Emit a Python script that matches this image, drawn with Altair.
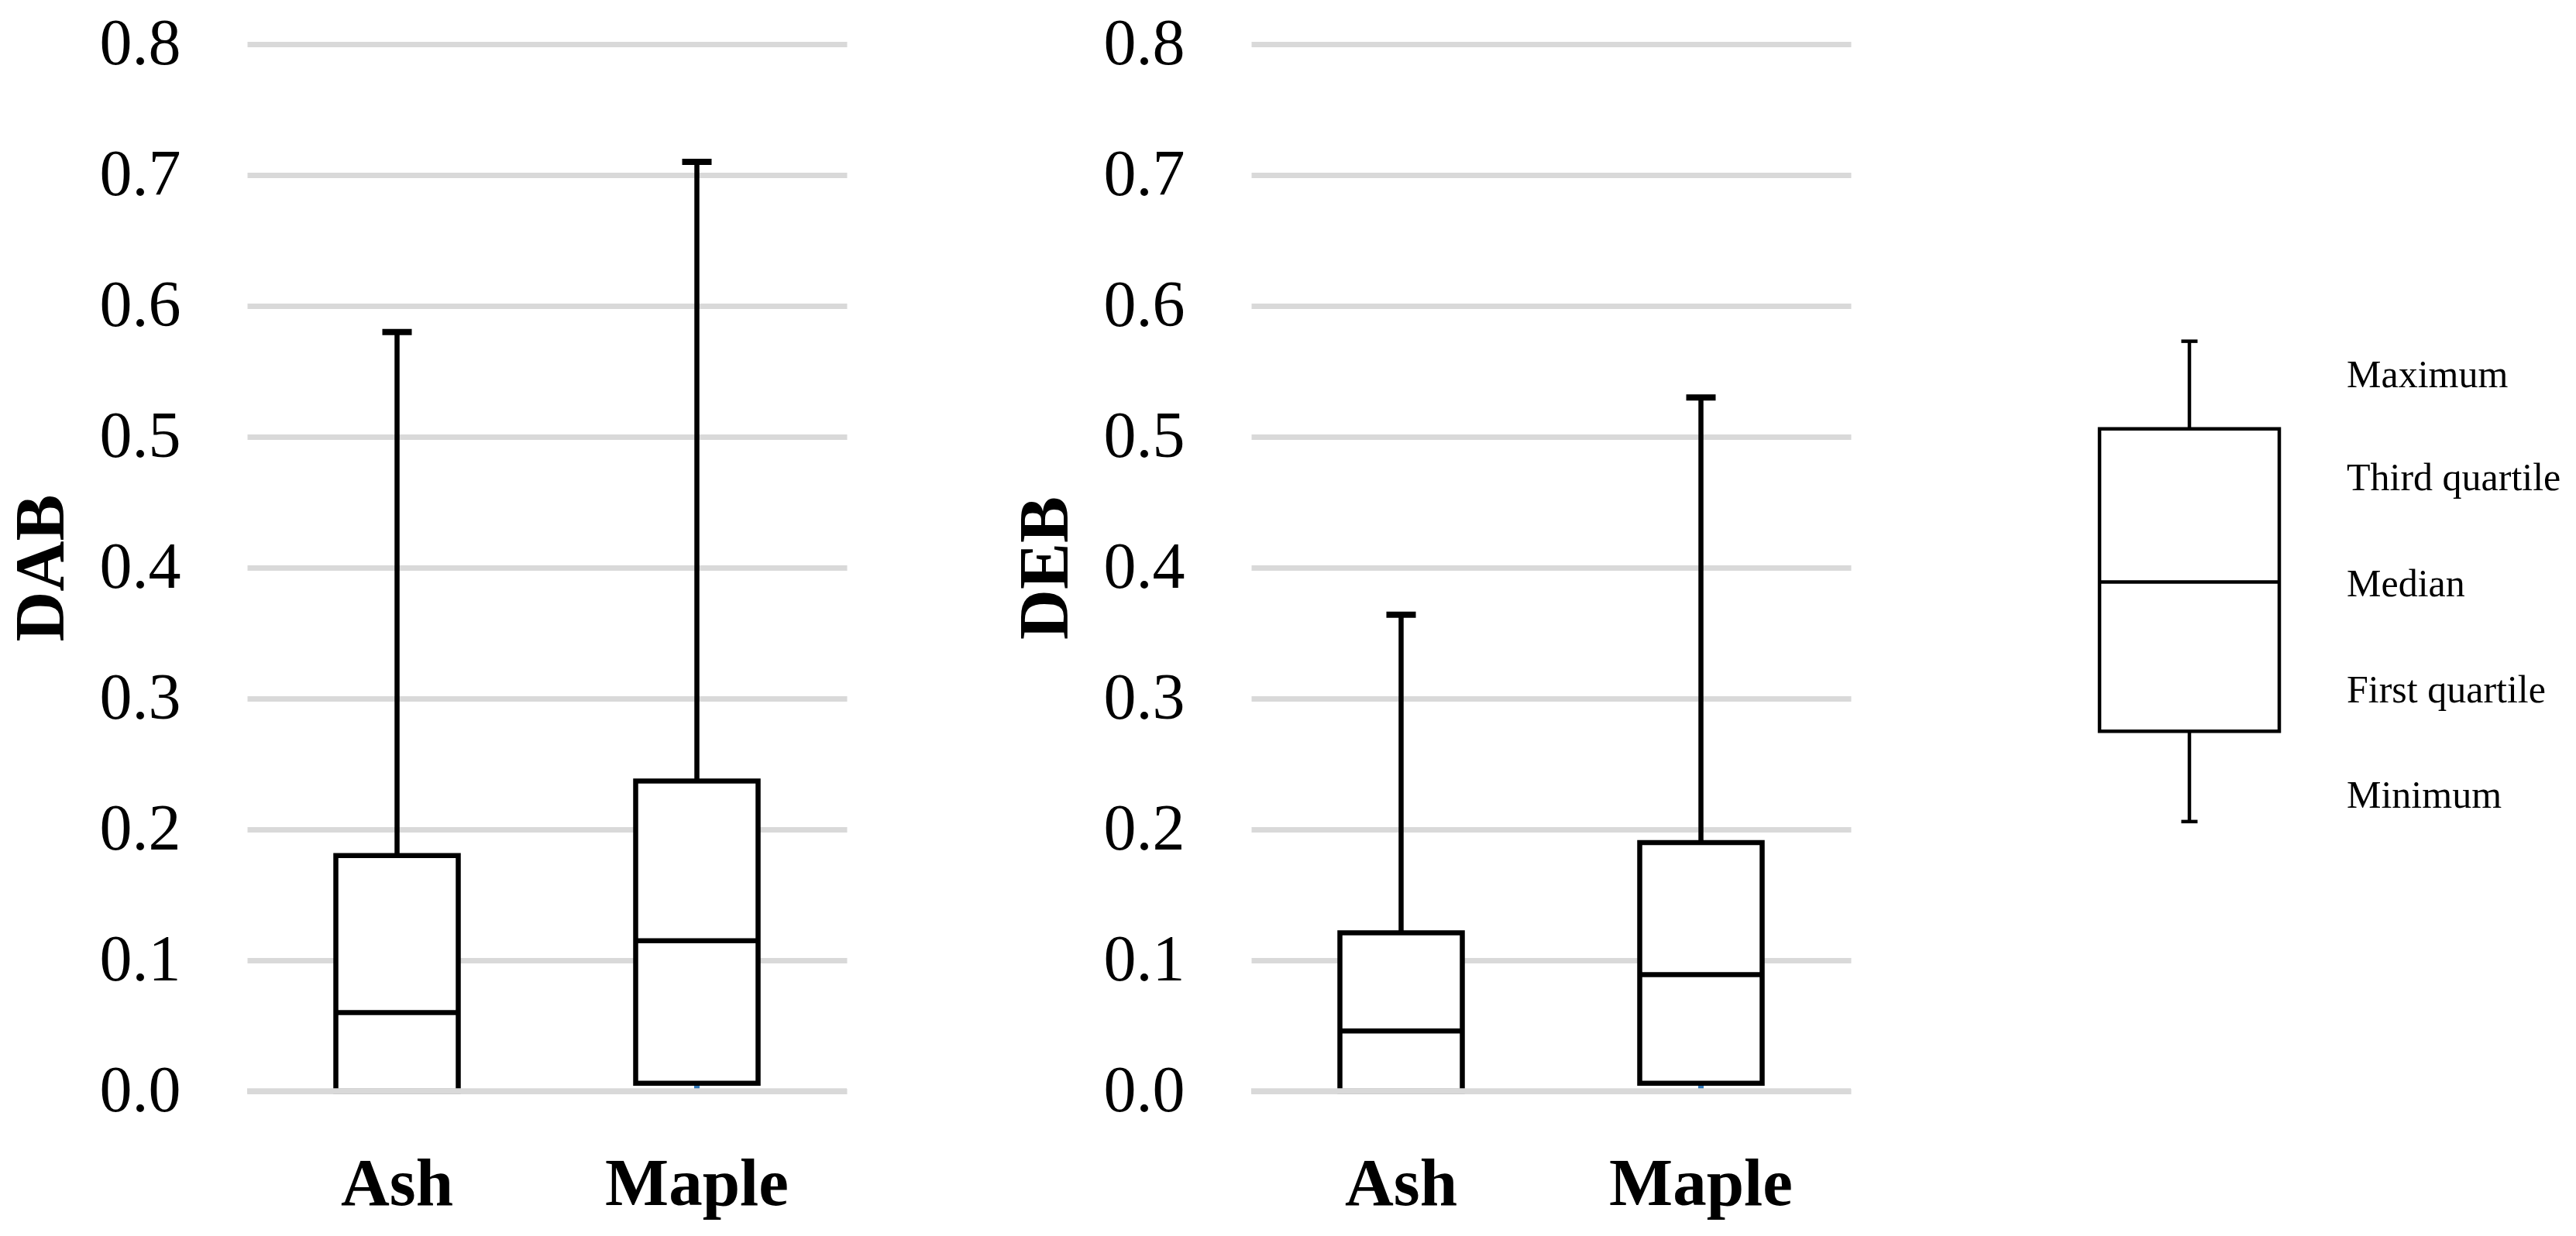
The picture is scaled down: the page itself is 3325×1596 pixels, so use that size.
import altair as alt
import pandas as pd

# ---- data ----
species = ["Ash", "Maple"]
dab_min = [0.0, 0.0]
dab_q1 = [0.0, 0.006]
dab_median = [0.06, 0.115]
dab_q3 = [0.18, 0.237]
dab_max = [0.58, 0.71]

deb_min = [0.0, 0.0]
deb_q1 = [0.0, 0.006]
deb_median = [0.046, 0.089]
deb_q3 = [0.121, 0.19]
deb_max = [0.364, 0.53]

# schematic key (drawn in the same value scale as the panels)
key_cat = ["key"]
key_min = [0.206]
key_q1 = [0.275]
key_median = [0.389]
key_q3 = [0.506]
key_max = [0.573]
key_labels = ["Maximum", "Third quartile", "Median", "First quartile", "Minimum"]
key_label_y = [0.547, 0.468, 0.387, 0.306, 0.2255]

y_ticks = [0.0, 0.1, 0.2, 0.3, 0.4, 0.5, 0.6, 0.7, 0.8]

FONT = "Liberation Serif"
W, H = 774, 1352
BOX_W = 158
LW = 6.5
GRID = "#d9d9d9"


def panel(title, mn, q1, med, q3, mx):
    df = pd.DataFrame({"cat": species, "min": mn, "q1": q1, "median": med,
                       "q3": q3, "max": mx})
    base = alt.Chart(df)
    x = alt.X("cat:N", sort=species,
              axis=alt.Axis(title=None, labelAngle=0, labelFont=FONT,
                            labelFontSize=87, labelFontWeight="bold",
                            labelColor="black", labelPadding=77,
                            labelLimit=1000,
                            ticks=False, domain=False, grid=False))
    yscale = alt.Scale(domain=[0, 0.8], nice=False)
    yaxis = alt.Axis(title=title, values=y_ticks, format=".1f",
                     labelFont=FONT, labelFontSize=84, labelColor="black",
                     labelPadding=86, ticks=False, domain=False,
                     grid=True, gridColor=GRID, gridWidth=7,
                     titleFont=FONT, titleFontSize=90, titleFontWeight="bold",
                     titleColor="black", titlePadding=28)
    low = base.mark_rule(color="#2e75b6", strokeWidth=7).encode(
        x=x, y=alt.Y("min:Q", scale=yscale, axis=yaxis), y2="q1:Q")
    box = base.mark_bar(size=BOX_W, fill="white", stroke="black",
                        strokeWidth=LW).encode(x=x, y="q1:Q", y2="q3:Q")
    med_t = base.mark_tick(size=BOX_W, thickness=LW, color="black",
                           opacity=1).encode(x=x, y="median:Q")
    whisk = base.mark_rule(color="black", strokeWidth=LW).encode(
        x=x, y="q3:Q", y2="max:Q")
    cap = base.mark_tick(size=38, thickness=8, color="black",
                         opacity=1).encode(x=x, y="max:Q")
    zero = base.mark_rule(color=GRID, strokeWidth=7).encode(y=alt.datum(0))
    return alt.layer(low, box, med_t, whisk, cap, zero).properties(
        width=W, height=H)


left = panel("DAB", dab_min, dab_q1, dab_median, dab_q3, dab_max)
right = panel("DEB", deb_min, deb_q1, deb_median, deb_q3, deb_max)

kdf = pd.DataFrame({"cat": key_cat, "min": key_min, "q1": key_q1,
                    "median": key_median, "q3": key_q3, "max": key_max})
ldf = pd.DataFrame({"cat": ["key"] * len(key_labels), "label": key_labels,
                    "ly": key_label_y})
kx = alt.X("cat:N", axis=None)
kscale = alt.Scale(domain=[0, 0.8], nice=False)
# invisible top label only keeps the key's plot top level with the panels
kaxis = alt.Axis(title=None, orient="right", values=[0.8], format=".1f",
                 labelFont=FONT, labelFontSize=84, labelColor="white",
                 ticks=False, domain=False, grid=False)
kb = alt.Chart(kdf)
k_whisk = kb.mark_rule(color="black", strokeWidth=4.5).encode(
    x=kx, y=alt.Y("min:Q", scale=kscale, axis=kaxis), y2="max:Q")
k_box = kb.mark_bar(size=232, fill="white", stroke="black",
                    strokeWidth=4.5).encode(x=kx, y="q1:Q", y2="q3:Q")
k_med = kb.mark_tick(size=232, thickness=4.5, color="black",
                     opacity=1).encode(x=kx, y="median:Q")
k_capt = kb.mark_tick(size=21, thickness=4.5, color="black",
                      opacity=1).encode(x=kx, y="max:Q")
k_capb = kb.mark_tick(size=21, thickness=4.5, color="black",
                      opacity=1).encode(x=kx, y="min:Q")
k_text = alt.Chart(ldf).mark_text(align="left", baseline="middle", dx=203,
                                  font=FONT, fontSize=50,
                                  color="black").encode(
    x=kx, y=alt.Y("ly:Q", scale=kscale), text="label:N")
key = alt.layer(k_whisk, k_box, k_med, k_capt, k_capb, k_text).properties(
    width=450, height=H)

chart = alt.hconcat(left, right, key, spacing=208).properties(
    padding={"left": 1, "top": 7, "right": 0, "bottom": 5},
    background="white",
).configure_view(strokeWidth=0, stroke=None)

chart.save("out.html", embed_options={"renderer": "svg", "actions": False})
